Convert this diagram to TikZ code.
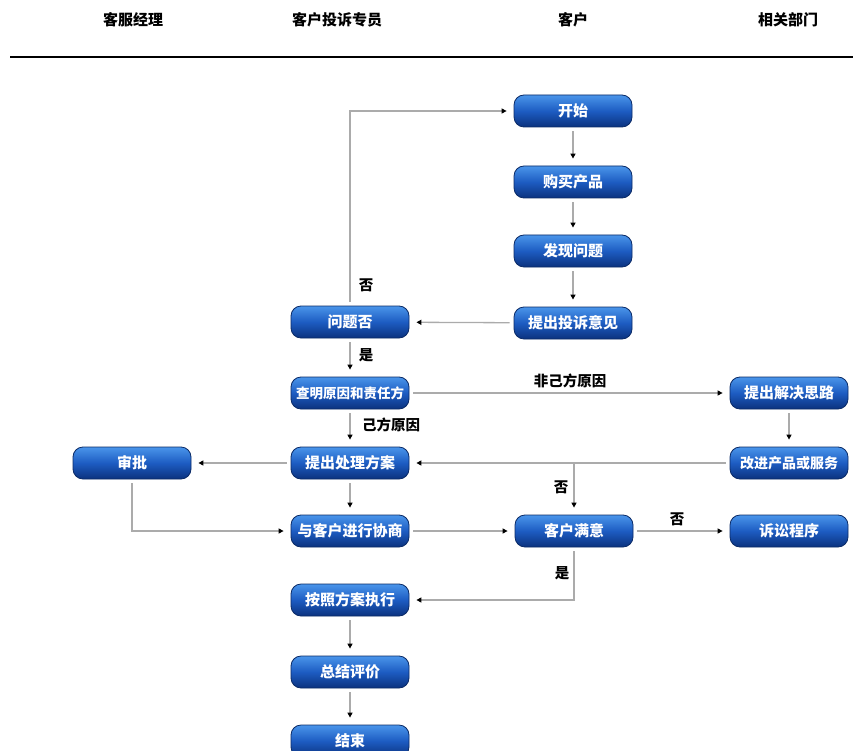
\documentclass[tikz,border=0pt]{standalone}
\usepackage{fontspec}
\setmainfont{Noto Sans CJK SC}
\usetikzlibrary{arrows.meta,shadings}
\definecolor{btop}{HTML}{4A95EA}
\definecolor{bmid}{HTML}{1D5CC2}
\definecolor{bbot}{HTML}{0B327E}
\definecolor{bedge}{HTML}{0A2A66}
\definecolor{lgray}{HTML}{ABABAB}
\tikzset{
  box/.style={rounded corners=10pt, minimum width=118pt, minimum height=32pt,
    top color=btop, bottom color=bbot, middle color=bmid, draw=bedge, line width=0.8pt,
    text=white, font=\bfseries\fontsize{15}{16}\selectfont, inner sep=1pt},
  arr/.style={draw=lgray, line width=1.3pt, shorten >=7pt, shorten <=4pt,
    -{Triangle[length=5pt,width=5pt,color=black]}},
  lbl/.style={font=\bfseries\fontsize{14.5}{15}\selectfont, text=black},
  hdr/.style={font=\bfseries\fontsize{15}{16}\selectfont, text=black}
}
\begin{document}
\begin{tikzpicture}[x=1pt,y=-1pt]
\clip (0,0) rectangle (853,751);
\useasboundingbox (0,0) rectangle (853,751);
% headers
\node[hdr] (h1) at (133,20) {客服经理};
\node[hdr] (h2) at (337,20) {客户投诉专员};
\node[hdr] (h3) at (573,20) {客户};
\node[hdr] (h4) at (788,20) {相关部门};
\coordinate (la) at (10,57);
\coordinate (lb) at (853,57);
\draw[line width=2pt, black] (la) -- (lb);
% nodes
\node[box] (ks) at (573,111) {开始};
\node[box] (gm) at (573,182) {购买产品};
\node[box] (fx) at (573,251) {发现问题};
\node[box] (ts) at (573,323) {提出投诉意见};
\node[box] (wt) at (350,322) {问题否};
\node[box, font=\bfseries\fontsize{13.5}{14}\selectfont] (cm) at (350,393) {查明原因和责任方};
\node[box] (cl) at (350,463) {提出处理方案};
\node[box] (sp) at (132,463) {审批};
\node[box] (xs) at (350,531) {与客户进行协商};
\node[box] (my) at (574,531) {客户满意};
\node[box] (ss) at (789,531) {诉讼程序};
\node[box] (jj) at (789,393) {提出解决思路};
\node[box, font=\bfseries\fontsize{14}{15}\selectfont] (gj) at (789,463) {改进产品或服务};
\node[box] (zx) at (350,600) {按照方案执行};
\node[box] (zj) at (350,672) {总结评价};
\node[box] (js) at (350,741) {结束};
% connectors
\draw[arr] (ks) -- (gm);
\draw[arr] (gm) -- (fx);
\draw[arr] (fx) -- (ts);
\draw[arr] (ts) -- (wt);
\draw[arr] (wt.north) |- (ks.west);
\draw[arr] (wt) -- (cm);
\draw[arr] (cm) -- (cl);
\draw[arr] (cm) -- (jj);
\draw[arr] (jj) -- (gj);
\draw[arr] (gj) -- (cl);
\coordinate (br) at (my.north |- gj.west);
\draw[arr, shorten <=0pt] (br) -- (my.north);
\draw[arr] (cl) -- (sp);
\draw[arr] (cl) -- (xs);
\draw[arr] (sp.south) |- (xs.west);
\draw[arr] (xs) -- (my);
\draw[arr] (my) -- (ss);
\draw[arr] (my.south) |- (zx.east);
\draw[arr] (zx) -- (zj);
\draw[arr] (zj) -- (js);
% labels
\node[lbl] (l1) at (366,285) {否};
\node[lbl] (l2) at (366,355) {是};
\node[lbl] (l3) at (391,425) {己方原因};
\node[lbl] (l4) at (570,381) {非己方原因};
\node[lbl] (l5) at (561,487) {否};
\node[lbl] (l6) at (677,519) {否};
\node[lbl] (l7) at (562,573) {是};
\end{tikzpicture}
\end{document}
